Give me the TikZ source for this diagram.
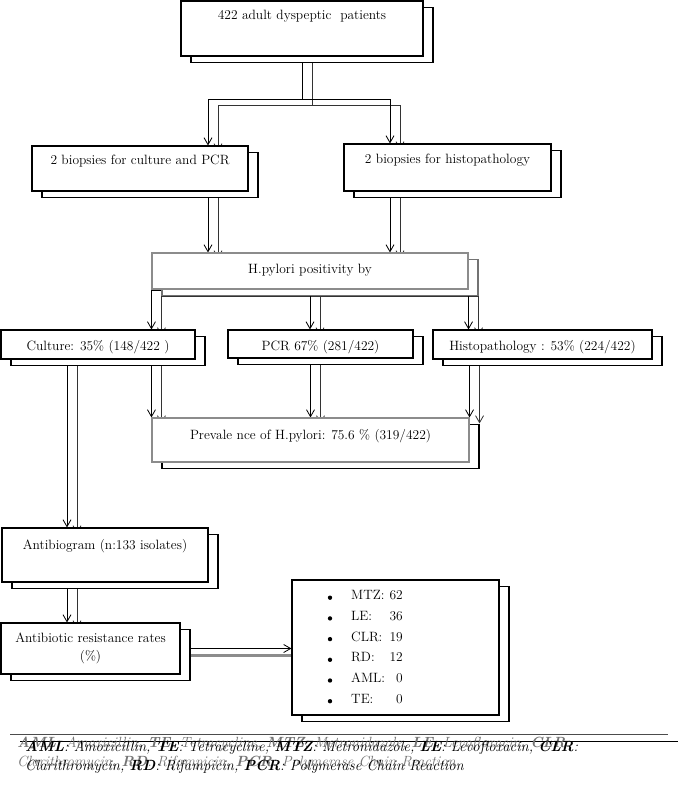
\documentclass[tikz,border=0pt]{standalone}
\usetikzlibrary{positioning, arrows.meta, shadows, backgrounds}
\newcommand{\abbrevkey}{\textbf{AML}: Amoxicillin, \textbf{TE}: Tetracycline, \textbf{MTZ}: Metronidazole, \textbf{LE}: Levofloxacin, \textbf{CLR}:\\
Clarithromycin, \textbf{RD}: Rifampicin, \textbf{PCR}: Polymerase Chain Reaction}
\tikzset{
  block/.style={
    draw,
    rectangle,
    line width=0.9pt,
    fill=white,
    inner xsep=2pt,
    inner ysep=0pt,
    align=center,
    font=\fontsize{11.5}{16}\selectfont,
    copy shadow={shadow xshift=0.3cm, shadow yshift=-0.2cm, draw=#1, fill=white, line width=0.9pt}
  },
  block/.default=black,
  link/.style={
    line width=0.7pt,
    -{Straight Barb[length=2.1mm, width=2.4mm]}
  },
  wire/.style={line width=0.7pt},
  ghost/.style={transform canvas={xshift=0.3cm, yshift=-0.18cm}, black!80},
  front/.style={black},
  smear/.style={line width=2.4pt, black!45},
  entry/.style={inner sep=0pt, font=\fontsize{11.5}{14}\selectfont},
  note/.style={inner sep=0pt, align=left, font=\fontsize{12.6}{15.8}\selectfont\itshape}
}

\begin{document}
\begin{tikzpicture}[x=0.03cm, y=-0.03cm]
    \useasboundingbox (0,0) rectangle (678,792);

    \node[block, minimum width=7.26cm, text height=0.57cm, text depth=1.08cm] (patients) at (302,28.5) {422 adult dyspeptic~ patients};
    \node[block, minimum width=6.48cm, text height=0.57cm, text depth=0.78cm] (biocult) at (140,168.5) {2 biopsies for culture and PCR};
    \node[block, minimum width=6.21cm, text height=0.6cm, text depth=0.81cm] (biohist) at (447.5,167.5) {2 biopsies for histopathology};
    \node[block=black!55, draw=black!45, minimum width=9.48cm, text height=0.6cm, text depth=0.48cm] (posit) at (310,271) {H.pylori positivity by};
    \node[block, minimum width=5.82cm, text height=0.6cm, text depth=0.27cm] (culture) at (98,344.5) {Culture: 35\% (148/422 )};
    \node[block, minimum width=5.55cm, text height=0.6cm, text depth=0.24cm] (pcr) at (320.5,344) {PCR 67\% (281/422)};
    \node[block, minimum width=6.57cm, text height=0.6cm, text depth=0.27cm] (histo) at (542.5,344.5) {Histopathology : 53\% (224/422)};
    \node[block, draw=black!45, minimum width=9.51cm, text height=0.63cm, text depth=0.69cm] (prev) at (310.5,440) {Prevale nce of H.pylori: 75.6 \% (319/422)};
    \node[block, minimum width=6.18cm, text height=0.63cm, text depth=0.99cm] (antibio) at (105,555) {Antibiogram (n:133 isolates)};
    \node[block, minimum width=5.37cm, minimum height=1.53cm] (resist) at (90.5,648.5) {Antibiotic resistance rates\\(\%)};
    \node[block, minimum width=6.21cm, minimum height=4.05cm] (rates) at (395.5,647.5) {};

    % resistance list
    \foreach \ab/\val [count=\i] in {MTZ:/62, LE:/36, CLR:/19, RD:/12, AML:/0, TE:/0} {
        \pgfmathsetmacro{\row}{574.5+20.7*\i}
        \fill (330,\row+2.5) circle (0.065cm);
        \node[entry, anchor=base west] (ab\i) at (351,\row+4.5) {\ab};
        \node[entry, anchor=base east] (val\i) at (403,\row+4.5) {\val};
    }

    \coordinate (lanel) at (208,99);
    \coordinate (laner) at (390,99);
    \coordinate (trunk) at (67,0);

    \begin{scope}[on background layer]
    \foreach \lay in {ghost, front} {
        \draw[link, \lay] (patients.south) |- (lanel) -- (lanel |- biocult.north);
        \draw[link, \lay] (patients.south) |- (laner) -- (laner |- biohist.north);
        \draw[link, \lay] (biocult.south -| lanel) -- (posit.north -| lanel);
        \draw[link, \lay] (biohist.south -| laner) -- (posit.north -| laner);
        \draw[wire, \lay] ([yshift=-1pt]posit.south west) -- ([yshift=-1pt]posit.south east);
        \draw[link, \lay] (posit.south west) -- (posit.south west |- culture.north);
        \draw[link, \lay] (posit.south) -- (posit.south |- pcr.north);
        \draw[link, \lay] (posit.south east) -- (posit.south east |- histo.north);
        \draw[link, \lay] (culture.south -| prev.north west) -- (prev.north west);
        \draw[link, \lay] (pcr.south -| prev.north) -- (prev.north);
        \draw[link, \lay] (histo.south -| prev.north east) -- (prev.north east);
        \draw[link, \lay] (culture.south -| trunk) -- (antibio.north -| trunk);
        \draw[link, \lay] (antibio.south -| trunk) -- (resist.north -| trunk);
    }
    \draw[smear] ([yshift=-0.21cm]resist.east) -- ([yshift=-0.21cm]resist.east -| rates.west);
    \draw[link] (resist.east) -- (resist.east -| rates.west);
    \end{scope}

    % abbreviations
    \draw[line width=0.6pt, black!70] (10,734) -- (668,734);
    \draw[line width=0.6pt] (20,741) -- (678,741);
    \node[note, text=black!55, anchor=base west] (key) at (17,766) {\abbrevkey};
    \node[note, anchor=base west] (keyecho) at (25,770) {\abbrevkey};
\end{tikzpicture}
\end{document}
